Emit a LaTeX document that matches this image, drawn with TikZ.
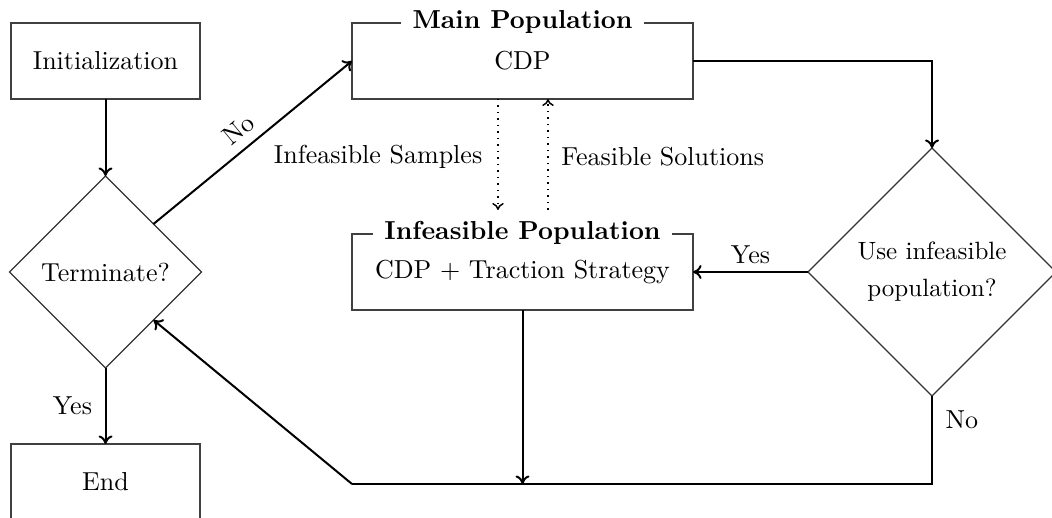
\documentclass[tikz,border=0pt]{standalone}
\usetikzlibrary{shapes.geometric,arrows.meta}
\begin{document}
\begin{tikzpicture}[
  x=0.4pt, y=-0.4pt,
  font=\fontsize{10.4pt}{12.5pt}\selectfont,
  box/.style={draw=black!75, line width=0.5pt, inner sep=0pt, outer sep=0pt,
              minimum height=30.4pt},
  smallbox/.style={box, minimum width=75.6pt},
  widebox/.style={box, minimum width=136.4pt},
  decision/.style={diamond, aspect=1, draw=black!80, line width=0.45pt,
                   inner sep=0pt, outer sep=0pt, align=center},
  boxtitle/.style={fill=white, font=\fontsize{10.4pt}{12.5pt}\selectfont\bfseries,
                   inner xsep=4.6pt, inner ysep=1pt},
  flow/.style={line width=0.8pt, -{To[length=3.4pt,width=5.6pt]}},
  link/.style={line width=0.8pt},
  exchange/.style={line width=0.6pt, dotted, -{To[length=2.8pt,width=4.6pt]}},
  lbl/.style={inner sep=2pt}
]
\useasboundingbox (0,0) rectangle (1052,518);

% left column
\node[smallbox] (init) at (105.5,61) {Initialization};
\node[decision, minimum width=76.8pt, minimum height=76.8pt] (term) at (105.5,272) {Terminate?};
\node[smallbox] (end) at (105.5,482) {End};

% populations
\node[widebox] (main) at (522.5,61) {CDP};
\node[boxtitle] (mtitle) at (522.5,22) {Main Population};
\node[widebox] (inf) at (522.5,272) {CDP + Traction Strategy};
\node[boxtitle] (ititle) at (522.5,233) {Infeasible Population};

% right decision
\node[decision, minimum width=99.2pt, minimum height=99.2pt,
      font=\fontsize{10pt}{14.8pt}\selectfont] (use) at (932,272) {Use infeasible\\population?};

% helper points
\coordinate (dn) at (498,210);
\coordinate (up) at (548,210);
\coordinate (corner) at (932,61);
\coordinate (br) at (932,484);
\coordinate (bl) at (352,484);
\coordinate (join) at (522.5,484);

% connectors
\draw[flow] (init) -- (term);
\draw[flow] (term) -- node[lbl, left=3pt] {Yes} (end);
\draw[flow] (term.north east) -- node[lbl, sloped, above=1.5pt, pos=0.49] {No} (main.west);
\draw[flow] (main.east) -- (corner) -- (use.north);
\draw[flow] (use.west) -- node[lbl, above=1pt] {Yes} (inf.east);
\draw[link] (use.south) -- node[lbl, right=3pt, pos=0.27] {No} (br) -- (bl);
\draw[flow] (bl) -- (term.south east);
\draw[flow] (inf.south) -- (join);

\draw[exchange] (main.south -| dn) -- node[lbl, left=4pt, pos=0.52] {Infeasible Samples} (dn);
\draw[exchange] (up) -- node[lbl, right=3pt, pos=0.48] {Feasible Solutions} (main.south -| up);
\end{tikzpicture}
\end{document}
